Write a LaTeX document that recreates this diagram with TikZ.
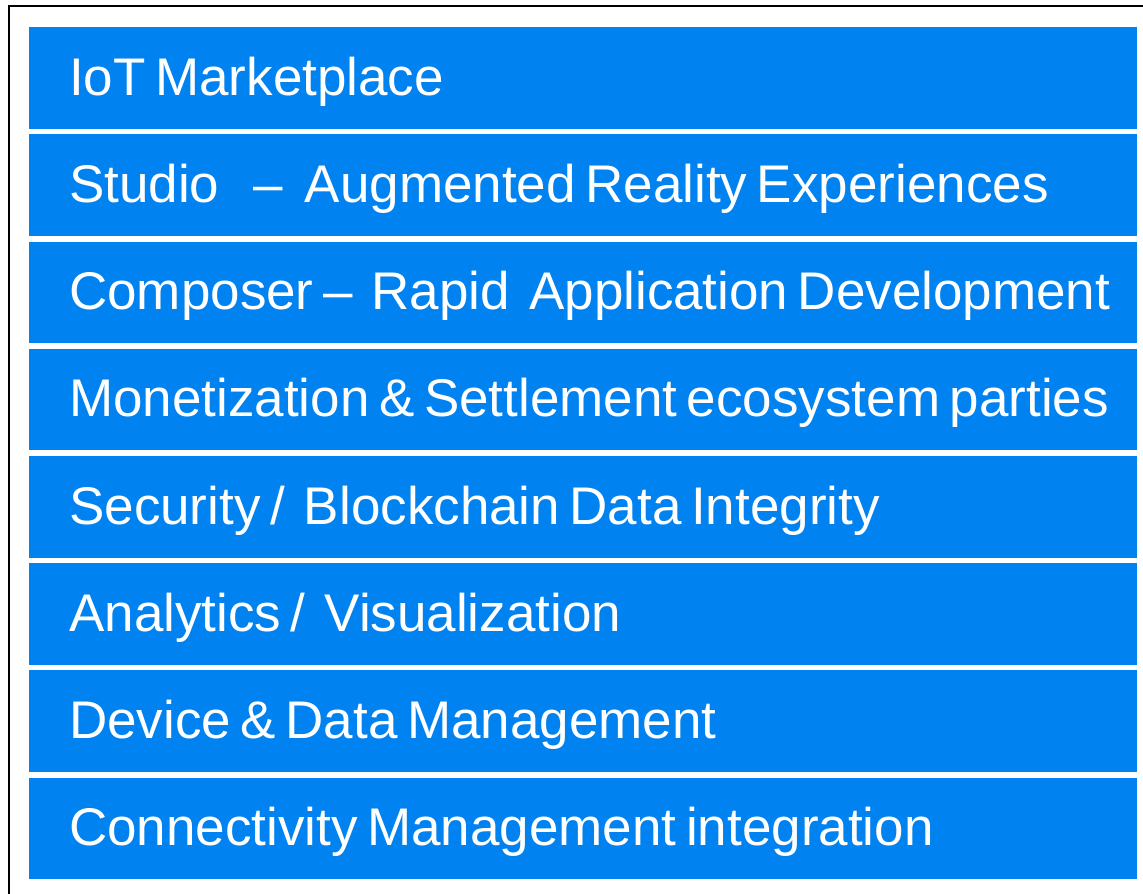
\documentclass[tikz,border=0pt]{standalone}
\usepackage{fontspec}
\setmainfont{Liberation Sans}
\usepackage{tikz}
\definecolor{layerblue}{RGB}{0,130,240}
\newcommand{\layerfont}{\fontsize{53}{60}\selectfont}
\newcommand{\tight}{\spaceskip=0.18em\relax}
\tikzset{
  layer/.style={fill=layerblue, text=white, anchor=north west, inner xsep=40pt, inner ysep=0pt,
    text width=1028pt, align=left, text height=68pt, text depth=33.5pt,
    font=\layerfont, execute at begin node=\tight},
}

\begin{document}
\begin{tikzpicture}[x=1pt,y=-1pt]
\useasboundingbox (0,0) rectangle (1143,894);
% frame, open on the right and at the bottom
\draw[line width=2pt] (1143,6) -| (9,894);
%
\node[layer] (market) at (29,27) {\mbox{IoT Marketplace}};
\node[layer] (studio) at (29,134.2) {\mbox{Studio\hspace{34pt}--\hspace{22pt}Augmented Reality Experiences}};
\node[layer] (composer) at (29,241.4) {\mbox{Composer -- \ Rapid \ Application Development}};
\node[layer] (money) at (29,348.6) {\mbox{Monetization \& Settlement ecosystem parties}};
\node[layer] (security) at (29,455.8) {\mbox{Security / \ Blockchain Data Integrity}};
\node[layer] (analytics) at (29,563) {\mbox{Analytics / \ Visualization}};
\node[layer] (device) at (29,670.2) {\mbox{Device \& Data Management}};
\node[layer] (connect) at (29,777.4) {\mbox{Connectivity Management integration}};
\end{tikzpicture}
\end{document}
